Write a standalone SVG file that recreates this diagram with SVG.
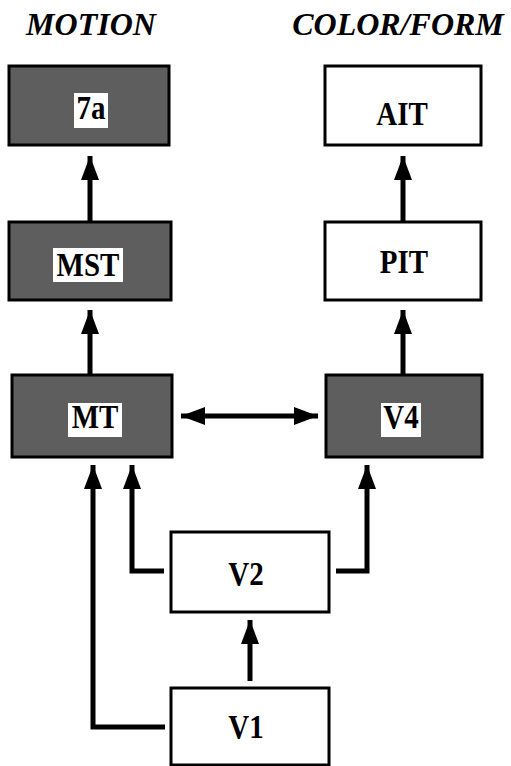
<svg xmlns="http://www.w3.org/2000/svg" width="511" height="766" viewBox="0 0 511 766">
<style>
.box{stroke:#000;stroke-width:3}
.dark{fill:#5e5e5e}
.light{fill:#fff}
.lbl{fill:#fff;stroke:none}
.t{font-family:"Liberation Serif","Times New Roman",serif;font-weight:bold;font-size:29px;fill:#000;text-anchor:middle}
.title{font-family:"Liberation Serif","Times New Roman",serif;font-weight:bold;font-style:italic;font-size:32px;fill:#000;text-anchor:middle}
.c{fill:none;stroke:#000;stroke-width:5}
</style>
<defs>
<marker id="ah" viewBox="0 0 24 18" refX="24" refY="9" markerWidth="24" markerHeight="18" markerUnits="userSpaceOnUse" orient="auto-start-reverse">
<path d="M0,0 L24,9 L0,18 Z" fill="#000"/>
</marker>
</defs>
<rect width="511" height="766" fill="#fff"/>
<g id="titles">
<text class="title" x="91" y="35">MOTION</text>
<text class="title" x="398" y="35">COLOR/FORM</text>
</g>
<g id="connectors">
<line class="c" x1="90" y1="222" x2="90" y2="156" marker-end="url(#ah)"/>
<line class="c" x1="403" y1="222" x2="403" y2="156" marker-end="url(#ah)"/>
<line class="c" x1="90" y1="375" x2="90" y2="310" marker-end="url(#ah)"/>
<line class="c" x1="403" y1="375" x2="403" y2="310" marker-end="url(#ah)"/>
<line class="c" x1="181" y1="416" x2="318" y2="416" marker-start="url(#ah)" marker-end="url(#ah)"/>
<polyline class="c" points="165,727 93,727 93,465" marker-end="url(#ah)"/>
<polyline class="c" points="164,571 132,571 132,465" marker-end="url(#ah)"/>
<polyline class="c" points="336,571 367,571 367,465" marker-end="url(#ah)"/>
<line class="c" x1="250" y1="681" x2="250" y2="620" marker-end="url(#ah)"/>
</g>
<g id="n7a">
<rect class="box dark" x="9" y="66" width="160" height="79"/>
<rect class="lbl" x="74" y="93" width="34" height="35"/>
<text class="t" transform="translate(91,119) scale(1,1.18)">7a</text>
</g>
<g id="nAIT">
<rect class="box light" x="325" y="66" width="156" height="79"/>
<text class="t" transform="translate(402,125) scale(1,1.18)">AIT</text>
</g>
<g id="nMST">
<rect class="box dark" x="9" y="222" width="162" height="78"/>
<rect class="lbl" x="53" y="248" width="70" height="34"/>
<text class="t" transform="translate(88,276) scale(1,1.18)">MST</text>
</g>
<g id="nPIT">
<rect class="box light" x="325" y="222" width="156" height="78"/>
<text class="t" transform="translate(404,273) scale(1,1.18)">PIT</text>
</g>
<g id="nMT">
<rect class="box dark" x="12" y="375" width="160" height="82"/>
<rect class="lbl" x="68" y="403" width="54" height="34"/>
<text class="t" transform="translate(95,428) scale(1,1.18)">MT</text>
</g>
<g id="nV4">
<rect class="box dark" x="326" y="375" width="156" height="82"/>
<rect class="lbl" x="381" y="403" width="40" height="34"/>
<text class="t" transform="translate(401,428) scale(1,1.18)">V4</text>
</g>
<g id="nV2">
<rect class="box light" x="171" y="532" width="158" height="80"/>
<text class="t" transform="translate(246,585) scale(1,1.18)">V2</text>
</g>
<g id="nV1">
<rect class="box light" x="171" y="688" width="158" height="77"/>
<text class="t" transform="translate(246,738) scale(1,1.18)">V1</text>
</g>
</svg>
